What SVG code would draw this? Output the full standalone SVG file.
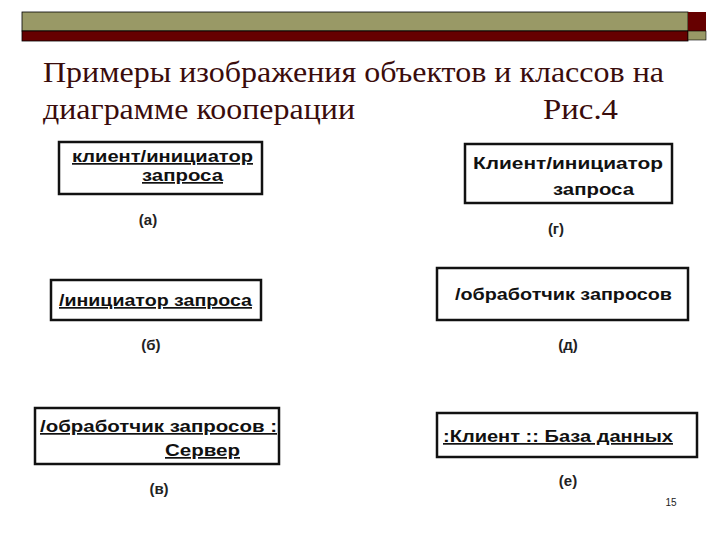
<svg xmlns="http://www.w3.org/2000/svg" width="720" height="540" viewBox="0 0 720 540">
<style>
.title{font-family:"Liberation Serif","Times New Roman",serif;font-size:29px;fill:#3a0c0c}
.box{fill:#fff;stroke:#111;stroke-width:2.5}
.lbl{font-family:"Liberation Sans",Arial,sans-serif;font-weight:bold;font-size:17px;fill:#111}
.u{text-decoration:underline}
.cap{font-family:"Liberation Sans",Arial,sans-serif;font-weight:bold;font-size:15px;fill:#222;text-anchor:middle}
</style>
<rect width="720" height="540" fill="#fff"/>
<g id="header">
<rect x="22" y="12" width="666" height="19" fill="#999966" stroke="#000" stroke-width="0.8"/>
<rect x="22" y="31" width="666" height="10" fill="#660000" stroke="#000" stroke-width="0.8"/>
<rect x="688" y="12" width="18" height="19" fill="#660000"/>
<rect x="688" y="31" width="18" height="9" fill="#999966" stroke="#000" stroke-width="0.6"/>
</g>
<g id="title">
<text class="title" x="43" y="82" textLength="621" lengthAdjust="spacingAndGlyphs">Примеры изображения объектов и классов на</text>
<text class="title" x="43" y="119" textLength="312" lengthAdjust="spacingAndGlyphs">диаграмме кооперации</text>
<text class="title" x="543" y="119" textLength="75" lengthAdjust="spacingAndGlyphs">Рис.4</text>
</g>
<g id="node-a">
<rect class="box" x="59" y="142" width="203" height="52"/>
<text class="lbl u" x="72" y="162" textLength="181" lengthAdjust="spacingAndGlyphs">клиент/инициатор</text>
<text class="lbl u" x="142" y="181" textLength="81" lengthAdjust="spacingAndGlyphs">запроса</text>
<text class="cap" x="148" y="225">(а)</text>
</g>
<g id="node-g">
<rect class="box" x="465" y="144" width="207" height="59"/>
<text class="lbl" x="473" y="169" textLength="190" lengthAdjust="spacingAndGlyphs">Клиент/инициатор</text>
<text class="lbl" x="553" y="195" textLength="81" lengthAdjust="spacingAndGlyphs">запроса</text>
<text class="cap" x="556" y="234">(г)</text>
</g>
<g id="node-b">
<rect class="box" x="51" y="280" width="210" height="40"/>
<text class="lbl u" x="59" y="306" textLength="193" lengthAdjust="spacingAndGlyphs">/инициатор запроса</text>
<text class="cap" x="151" y="350">(б)</text>
</g>
<g id="node-d">
<rect class="box" x="437" y="268" width="251" height="52"/>
<text class="lbl" x="455" y="300" textLength="217" lengthAdjust="spacingAndGlyphs">/обработчик запросов</text>
<text class="cap" x="568" y="350">(д)</text>
</g>
<g id="node-v">
<rect class="box" x="35" y="408" width="244" height="56"/>
<text class="lbl u" x="40" y="432" textLength="237" lengthAdjust="spacingAndGlyphs">/обработчик запросов :</text>
<text class="lbl u" x="165" y="456" textLength="75" lengthAdjust="spacingAndGlyphs">Сервер</text>
<text class="cap" x="159" y="494">(в)</text>
</g>
<g id="node-e">
<rect class="box" x="437" y="413" width="260" height="44"/>
<text class="lbl u" x="443" y="442" textLength="230" lengthAdjust="spacingAndGlyphs">:Клиент :: База данных</text>
<text class="cap" x="568" y="486">(е)</text>
</g>
<text x="671" y="506" font-family="Liberation Sans, Arial, sans-serif" font-size="10" fill="#222" text-anchor="middle">15</text>
</svg>
